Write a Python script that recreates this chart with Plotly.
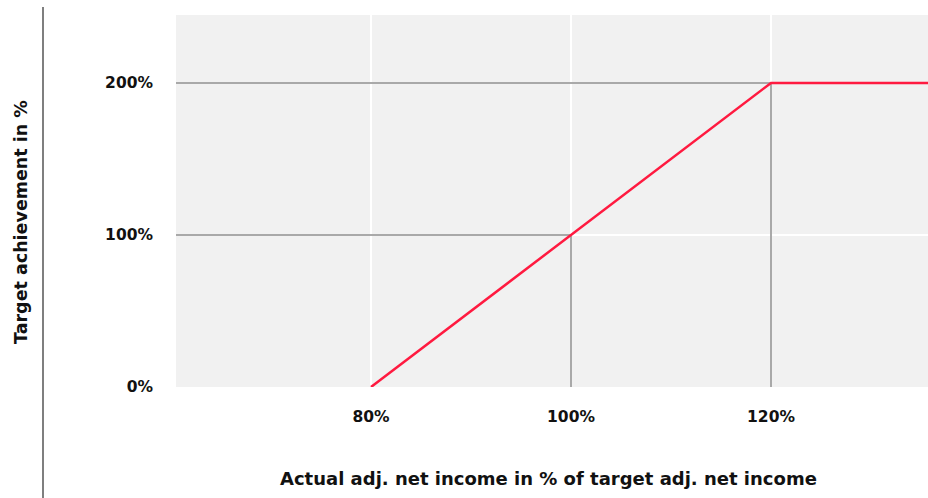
import plotly.graph_objects as go

# payout curve: actual net income (% of target) -> target achievement (%)
curve_x = [80, 120, 136]
curve_y = [0, 200, 200]

# reference levels marked with gray guide lines
guide_x = [100, 120]
guide_y = [100, 200]

x_ticks = [80, 100, 120]
x_labels = ["80%", "100%", "120%"]
y_ticks = [0, 100, 200]
y_labels = ["0%", "100%", "200%"]

x_range = [60.5, 135.7]
y_range = [0, 244.7]

W, H = 928, 498
ML, MR, MT, MB = 176, 0, 15, 111

fig = go.Figure()

guide_color = "#a9a9a9"
for gx, gy in zip(guide_x, guide_y):
    fig.add_trace(go.Scatter(x=[x_range[0], gx], y=[gy, gy], mode="lines",
                             line=dict(color=guide_color, width=2),
                             hoverinfo="skip", showlegend=False))
    fig.add_trace(go.Scatter(x=[gx, gx], y=[y_range[0], gy], mode="lines",
                             line=dict(color=guide_color, width=2),
                             hoverinfo="skip", showlegend=False))

fig.add_trace(go.Scatter(x=curve_x, y=curve_y, mode="lines",
                         line=dict(color="#ff1a40", width=2.5),
                         showlegend=False))

tick_font = dict(family="DejaVu Sans", size=15.5, color="#111111", weight="bold")

fig.update_xaxes(range=x_range, tickvals=x_ticks, ticktext=x_labels,
                 showgrid=True, gridcolor="white", gridwidth=2,
                 zeroline=False, showline=False, ticks="",
                 tickfont=tick_font, ticklabelstandoff=18)
fig.update_yaxes(range=y_range, tickvals=y_ticks, ticktext=y_labels,
                 showgrid=True, gridcolor="white", gridwidth=2,
                 zeroline=False, showline=False, ticks="",
                 tickfont=tick_font, ticklabelstandoff=22)

pw = W - ML - MR
ph = H - MT - MB

fig.add_shape(type="line", xref="paper", yref="paper",
              x0=(43 - ML) / pw, x1=(43 - ML) / pw,
              y0=(H - MB - 7) / ph, y1=-MB / ph,
              line=dict(color="#555555", width=1.5))

fig.add_annotation(text="<b>Actual adj. net income in % of target adj. net income</b>",
                   xref="paper", yref="paper",
                   x=(548 - ML) / pw, y=-(478 - (H - MB)) / ph,
                   xanchor="center", yanchor="middle", showarrow=False,
                   font=dict(family="DejaVu Sans", size=18, color="#111111"))
fig.add_annotation(text="<b>Target achievement in %</b>",
                   xref="paper", yref="paper",
                   x=(21 - ML) / pw, y=((H - MB) - 222) / ph,
                   xanchor="center", yanchor="middle", showarrow=False,
                   textangle=-90,
                   font=dict(family="DejaVu Sans", size=17.5, color="#111111"))

fig.update_layout(width=W, height=H,
                  margin=dict(l=ML, r=MR, t=MT, b=MB),
                  plot_bgcolor="#f1f1f1", paper_bgcolor="white")

# the page body has a default margin; drop it so the figure fills the window
fig.write_html("out.html", config={"displayModeBar": False}, post_script=(
    "document.body.style.margin='0';"
    "document.body.style.overflow='hidden';"
    "Plotly.Plots.resize(document.getElementById('{plot_id}'));"))
